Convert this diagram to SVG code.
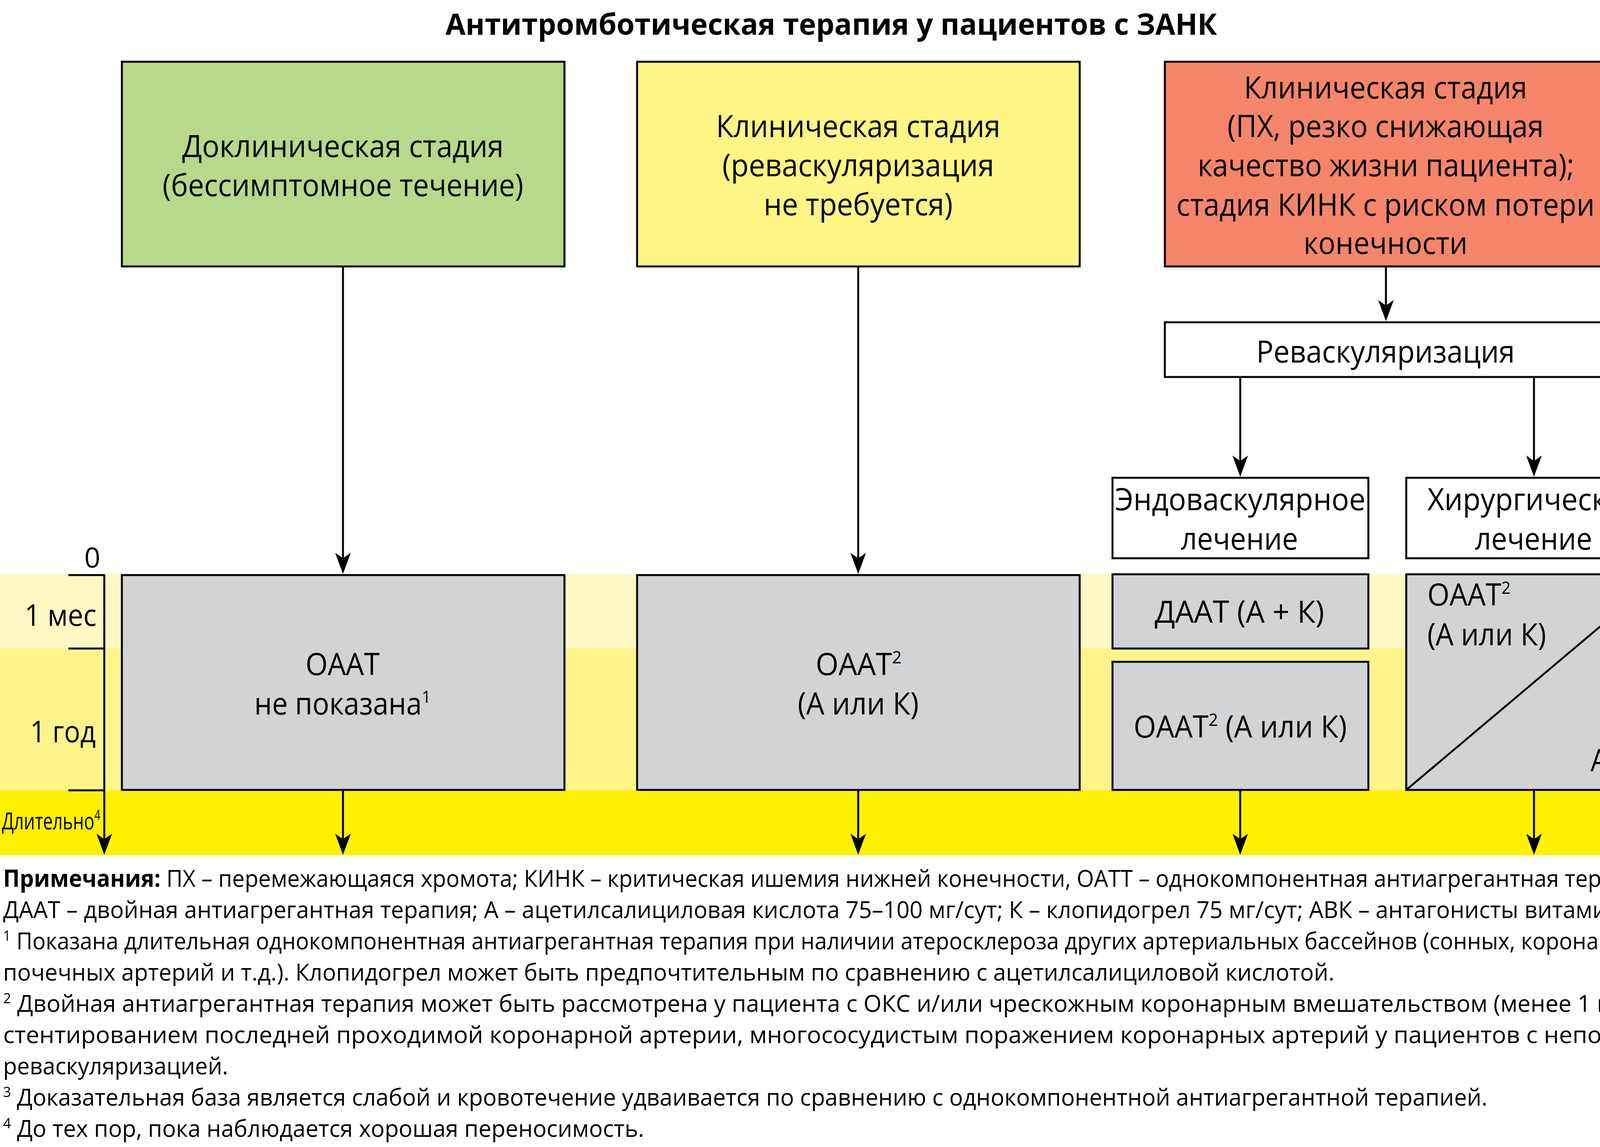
<svg xmlns="http://www.w3.org/2000/svg" width="4258" height="2936" viewBox="0 0 4258 2936">
<defs>
<style>
.t{font-family:'Open Sans','Noto Sans','Liberation Sans',sans-serif;fill:#000}
.c{text-anchor:middle}
.e{text-anchor:end}
.l{font-size:78px}
.n{font-size:60px}
.box{stroke:#000;stroke-width:5}
.gray{fill:#D1D3D4}
.white{fill:#fff}
.conn{stroke:#000;stroke-width:5;fill:none;marker-end:url(#ah)}
.tick{stroke:#000;stroke-width:5;fill:none}
</style>
<marker id="ah" markerUnits="userSpaceOnUse" markerWidth="60" markerHeight="44" refX="44" refY="20" orient="auto" overflow="visible">
<path d="M54,20 L0,0 L14,20 L0,40 Z" fill="#000"/>
</marker>
</defs>
<rect width="4258" height="2936" fill="#fff"/>

<g id="bands">
<rect x="0" y="1470" width="4250" height="190" fill="#FEF9C4"/>
<rect x="0" y="1660" width="4250" height="363" fill="#FEF48A"/>
<rect x="0" y="2023" width="4250" height="166" fill="#FFF200"/>
</g>

<text id="title" class="t c" x="2128" y="89" font-size="76" font-weight="bold" textLength="1975" lengthAdjust="spacingAndGlyphs">Антитромботическая терапия у пациентов с ЗАНК</text>

<g id="node-preclinical">
<rect class="box" x="312" y="158" width="1133" height="524" fill="#B9D88A"/>
<text class="t c l" x="878" y="402" textLength="823" lengthAdjust="spacingAndGlyphs">Доклиническая стадия</text>
<text class="t c l" x="878" y="502" textLength="924" lengthAdjust="spacingAndGlyphs">(бессимптомное течение)</text>
</g>

<g id="node-clinical">
<rect class="box" x="1631" y="158" width="1133" height="524" fill="#FFF584"/>
<text class="t c l" x="2197" y="351" textLength="728" lengthAdjust="spacingAndGlyphs">Клиническая стадия</text>
<text class="t c l" x="2197" y="451" textLength="696" lengthAdjust="spacingAndGlyphs">(реваскуляризация</text>
<text class="t c l" x="2197" y="551" textLength="484" lengthAdjust="spacingAndGlyphs">не требуется)</text>
</g>

<g id="node-clinical-severe">
<rect class="box" x="2982" y="158" width="1132" height="524" fill="#F58669"/>
<text class="t c l" x="3547" y="252" textLength="725" lengthAdjust="spacingAndGlyphs">Клиническая стадия</text>
<text class="t c l" x="3547" y="351" textLength="810" lengthAdjust="spacingAndGlyphs">(ПХ, резко снижающая</text>
<text class="t c l" x="3548" y="451" textLength="964" lengthAdjust="spacingAndGlyphs">качество жизни пациента);</text>
<text class="t c l" x="3547" y="552" textLength="1071" lengthAdjust="spacingAndGlyphs">стадия КИНК с риском потери</text>
<text class="t c l" x="3547" y="650" textLength="420" lengthAdjust="spacingAndGlyphs">конечности</text>
</g>

<g id="node-revasc">
<rect class="box white" x="2982" y="825" width="1132" height="140"/>
<text class="t c l" x="3547" y="928" textLength="662" lengthAdjust="spacingAndGlyphs">Реваскуляризация</text>
</g>

<g id="node-endo">
<rect class="box white" x="2848" y="1223" width="655" height="206"/>
<text class="t c l" x="3175" y="1306" textLength="641" lengthAdjust="spacingAndGlyphs">Эндоваскулярное</text>
<text class="t c l" x="3173" y="1407" textLength="300" lengthAdjust="spacingAndGlyphs">лечение</text>
</g>

<g id="node-surg">
<rect class="box white" x="3600" y="1223" width="655" height="206"/>
<text class="t c l" x="3927" y="1306" textLength="545" lengthAdjust="spacingAndGlyphs">Хирургическое</text>
<text class="t c l" x="3926" y="1407" textLength="300" lengthAdjust="spacingAndGlyphs">лечение</text>
</g>

<g id="node-oaat-none">
<rect class="box gray" x="312" y="1472" width="1133" height="550"/>
<text class="t c l" x="877" y="1728" textLength="190" lengthAdjust="spacingAndGlyphs">ОААТ</text>
<text class="t c l" x="877" y="1829" textLength="452" lengthAdjust="spacingAndGlyphs">не показана<tspan font-size="44" dy="-30">1</tspan></text>
</g>

<g id="node-oaat">
<rect class="box gray" x="1631" y="1472" width="1133" height="550"/>
<text class="t c l" x="2198" y="1728" textLength="220" lengthAdjust="spacingAndGlyphs">ОААТ<tspan font-size="44" dy="-30">2</tspan></text>
<text class="t c l" x="2197" y="1829" textLength="310" lengthAdjust="spacingAndGlyphs">(А или К)</text>
</g>

<g id="node-daat">
<rect class="box gray" x="2848" y="1470" width="655" height="190"/>
<text class="t c l" x="3173" y="1594" textLength="434" lengthAdjust="spacingAndGlyphs">ДААТ (А + К)</text>
</g>

<g id="node-oaat-endo">
<rect class="box gray" x="2848" y="1694" width="655" height="328"/>
<text class="t c l" x="3175" y="1888" textLength="546" lengthAdjust="spacingAndGlyphs">ОААТ<tspan font-size="44" dy="-30">2</tspan><tspan dy="30"> (А или К)</tspan></text>
</g>

<g id="node-surg-therapy">
<rect class="box gray" x="3600" y="1470" width="655" height="552"/>
<line x1="3600" y1="2022" x2="4255" y2="1470" stroke="#000" stroke-width="5"/>
<text class="t l" x="3654" y="1550" textLength="213" lengthAdjust="spacingAndGlyphs">ОААТ<tspan font-size="44" dy="-30">2</tspan></text>
<text class="t l" x="3654" y="1652" textLength="304" lengthAdjust="spacingAndGlyphs">(А или К)</text>
<text class="t e l" x="4227" y="1974" textLength="155" lengthAdjust="spacingAndGlyphs">АВК<tspan font-size="44" dy="-30">3</tspan></text>
</g>

<g id="timeline">
<line class="conn" x1="267" y1="1470" x2="267" y2="2178"/>
<path class="tick" d="M175,1472 H267 M175,1660 H267 M175,2023 H267"/>
<text class="t e" x="257" y="1453" font-size="72">0</text>
<text class="t e" x="247" y="1602" font-size="76" textLength="184" lengthAdjust="spacingAndGlyphs">1 мес</text>
<text class="t e" x="245" y="1900" font-size="76" textLength="168" lengthAdjust="spacingAndGlyphs">1 год</text>
<text class="t" x="5" y="2123" font-size="60" textLength="252" lengthAdjust="spacingAndGlyphs">Длительно<tspan font-size="36" dy="-24">4</tspan></text>
</g>

<g id="connectors">
<line class="conn" x1="878" y1="682" x2="878" y2="1459"/>
<line class="conn" x1="2197" y1="682" x2="2197" y2="1459"/>
<line class="conn" x1="3548" y1="682" x2="3548" y2="812"/>
<line class="conn" x1="3175" y1="965" x2="3175" y2="1210"/>
<line class="conn" x1="3927" y1="965" x2="3927" y2="1210"/>
<line class="conn" x1="878" y1="2022" x2="878" y2="2178"/>
<line class="conn" x1="2197" y1="2022" x2="2197" y2="2178"/>
<line class="conn" x1="3175" y1="2022" x2="3175" y2="2178"/>
<line class="conn" x1="3927" y1="2022" x2="3927" y2="2178"/>
</g>

<g id="notes">
<text class="t n" x="8" y="2270" textLength="4242" lengthAdjust="spacingAndGlyphs"><tspan font-weight="bold">Примечания:</tspan> ПХ – перемежающаяся хромота; КИНК – критическая ишемия нижней конечности, ОАТТ – однокомпонентная антиагрегантная терапия;</text>
<text class="t n" x="8" y="2350" textLength="4242" lengthAdjust="spacingAndGlyphs">ДААТ – двойная антиагрегантная терапия; А – ацетилсалициловая кислота 75–100 мг/сут; К – клопидогрел 75 мг/сут; АВК – антагонисты витамина К.</text>
<text class="t n" x="8" y="2430" textLength="4242" lengthAdjust="spacingAndGlyphs"><tspan font-size="36" dy="-22">1</tspan><tspan dy="22"> Показана длительная однокомпонентная антиагрегантная терапия при наличии атеросклероза других артериальных бассейнов (сонных, коронарных,</tspan></text>
<text class="t n" x="8" y="2510" textLength="3408" lengthAdjust="spacingAndGlyphs">почечных артерий и т.д.). Клопидогрел может быть предпочтительным по сравнению с ацетилсалициловой кислотой.</text>
<text class="t n" x="8" y="2590" textLength="4242" lengthAdjust="spacingAndGlyphs"><tspan font-size="36" dy="-22">2</tspan><tspan dy="22"> Двойная антиагрегантная терапия может быть рассмотрена у пациента с ОКС и/или чрескожным коронарным вмешательством (менее 1 года),</tspan></text>
<text class="t n" x="8" y="2670" textLength="4242" lengthAdjust="spacingAndGlyphs">стентированием последней проходимой коронарной артерии, многососудистым поражением коронарных артерий у пациентов с неполной</text>
<text class="t n" x="8" y="2750" textLength="576" lengthAdjust="spacingAndGlyphs">реваскуляризацией.</text>
<text class="t n" x="8" y="2830" textLength="3800" lengthAdjust="spacingAndGlyphs"><tspan font-size="36" dy="-22">3</tspan><tspan dy="22"> Доказательная база является слабой и кровотечение удваивается по сравнению с однокомпонентной антиагрегантной терапией.</tspan></text>
<text class="t n" x="8" y="2910" textLength="1641" lengthAdjust="spacingAndGlyphs"><tspan font-size="36" dy="-22">4</tspan><tspan dy="22"> До тех пор, пока наблюдается хорошая переносимость.</tspan></text>
</g>
</svg>
